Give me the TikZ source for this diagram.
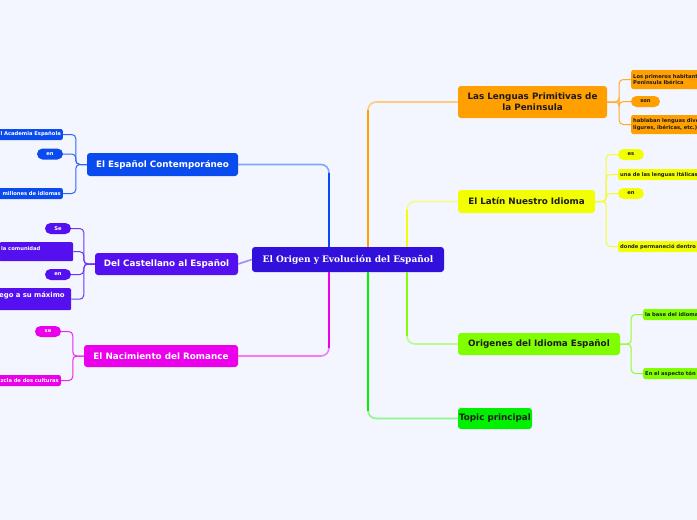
\documentclass[tikz,border=0pt]{standalone}
\usepackage{fontspec}
\newfontfamily\dvs{DejaVu Sans}
\newfontfamily\dvserif{DejaVu Serif}
\definecolor{bg}{HTML}{F3F6FE}
\definecolor{cCen}{HTML}{3210DC}
\definecolor{cBlue}{HTML}{0A4BF0}
\definecolor{cBlueL}{HTML}{7FA5FF}
\definecolor{cPur}{HTML}{5510F0}
\definecolor{cPurL}{HTML}{A888F8}
\definecolor{cMag}{HTML}{EB00EB}
\definecolor{cMagL}{HTML}{F47CF4}
\definecolor{cOra}{HTML}{FF9F00}
\definecolor{cOraL}{HTML}{FFCB80}
\definecolor{cYel}{HTML}{F2FF00}
\definecolor{cYelL}{HTML}{F4FA90}
\definecolor{cLim}{HTML}{80FF00}
\definecolor{cLimL}{HTML}{BBFA88}
\definecolor{cGre}{HTML}{00F000}
\definecolor{cGreL}{HTML}{88F888}
\definecolor{dk}{HTML}{1C1C1C}
\begin{document}
\begin{tikzpicture}[x=1pt,y=-1pt,
  topicbox/.style={rounded corners=3pt, inner sep=0pt, align=center,
    font=\dvs\bfseries\fontsize{8.8}{11}\selectfont},
  subbox/.style={rounded corners=2pt, inner xsep=2pt, inner ysep=0pt,
    minimum height=11pt, font=\dvs\bfseries\fontsize{5.2}{6.8}\selectfont},
  pillbox/.style={subbox, rounded corners=5.5pt, minimum width=26pt},
  mainconn/.style={line width=1.6pt, rounded corners=8pt},
  subconn/.style={line width=1pt, rounded corners=4pt}]
\fill[bg] (0,0) rectangle (697,520);
\useasboundingbox (0,0) rectangle (697,520);

% central
\node[fill=cCen, text=white, rounded corners=3pt, minimum width=192pt, minimum height=25pt,
  font=\dvserif\bfseries\fontsize{9}{10}\selectfont] (cen) at (348,259.5) {El Origen y Evolución del Español};

% main topics
\node[topicbox, fill=cBlue, text=white, minimum width=151pt, minimum height=23pt] (contemp) at (162.5,164.5) {El Español Contemporáneo};
\node[topicbox, fill=cPur, text=white, minimum width=143pt, minimum height=22pt] (cast) at (166.5,264) {Del Castellano al Español};
\node[topicbox, fill=cMag, text=white, minimum width=154pt, minimum height=22pt] (nac) at (161,356) {El Nacimiento del Romance};
\node[topicbox, fill=cOra, text=dk, minimum width=149pt, minimum height=32pt] (leng) at (532.5,102) {Las Lenguas Primitivas de\\la Peninsula};
\node[topicbox, fill=cYel, text=dk, minimum width=137pt, minimum height=23pt] (latin) at (526.5,201.5) {El Latín Nuestro Idioma};
\node[topicbox, fill=cLim, text=dk, minimum width=162pt, minimum height=22pt] (orig) at (539,344) {Origenes del Idioma Español};
\node[topicbox, fill=cGre, text=dk, minimum width=74pt, minimum height=21pt] (topic) at (495,418.5) {Topic principal};

% blue children
\node[subbox, fill=cBlue, text=white, anchor=east, text width=68pt, align=right] (b1) at (63,134.5) {l Academia Española};
\node[pillbox, fill=cBlue, text=white] (b2) at (50,154) {en};
\node[subbox, fill=cBlue, text=white, anchor=east, text width=68pt, align=right] (b3) at (63,193.5) {millones de idiomas};

% purple children
\node[pillbox, fill=cPur, text=white] (p1) at (58,228.5) {Se};
\node[subbox, fill=cPur, text=white, anchor=north west, text width=70pt, align=left, minimum height=19pt] (p2) at (-1,242) {la comunidad\\\mbox{}};
\node[pillbox, fill=cPur, text=white] (p3) at (58,274.5) {en};
\node[subbox, fill=cPur, text=white, anchor=north west, text width=70pt, align=left, minimum height=22pt,
  font=\dvs\bfseries\fontsize{6.9}{8}\selectfont] (p4) at (-3,288) {ego a su máximo\\\mbox{}};

% magenta children
\node[pillbox, fill=cMag, text=white] (m1) at (48,331.5) {se};
\node[subbox, fill=cMag, text=white, anchor=east, text width=66pt, align=right] (m2) at (61,380.5) {zcla de dos culturas};

% orange children
\node[subbox, fill=cOra, text=dk, anchor=west, text width=70pt, align=left, minimum height=19pt] (o1) at (631,79.5) {Los primeros habitant\\Peninsula Ibérica};
\node[pillbox, fill=cOra, text=dk, minimum width=29pt] (o2) at (645.5,101.5) {son};
\node[subbox, fill=cOra, text=dk, anchor=west, text width=70pt, align=left, minimum height=19pt] (o3) at (631,124.5) {hablaban lenguas dive\\ligures, ibéricas, etc.)};

% yellow children
\node[pillbox, fill=cYel, text=dk] (y1) at (631,154.5) {es};
\node[subbox, fill=cYel, text=dk, anchor=west, text width=80pt, align=left] (y2) at (618,174.5) {una de las lenguas itálicas};
\node[pillbox, fill=cYel, text=dk] (y3) at (631,193.5) {en};
\node[subbox, fill=cYel, text=dk, anchor=west, text width=80pt, align=left] (y4) at (618,246.5) {donde permaneció dentro};

% lime children
\node[subbox, fill=cLim, text=dk, anchor=west, text width=58pt, align=left] (l1) at (643,314.5) {la base del idioma};
\node[subbox, fill=cLim, text=dk, anchor=west, text width=58pt, align=left] (l2) at (643,373.5) {En el aspecto tón};

% main connectors
\draw[mainconn, cBlueL] ([xshift=-19pt]cen.north) |- (contemp.east);
\draw[mainconn, cBlue, shorten >=8pt] ([xshift=-19pt]cen.north) -- ([xshift=-19pt]cen.north |- contemp.east);
\draw[mainconn, cPurL] (cen.west) -- (cast.east);
\draw[mainconn, cMagL] ([xshift=-19pt]cen.south) |- (nac.east);
\draw[mainconn, cMag, shorten >=8pt] ([xshift=-19pt]cen.south) -- ([xshift=-19pt]cen.south |- nac.east);
\draw[mainconn, cOraL] ([xshift=20pt]cen.north) |- (leng.west);
\draw[mainconn, cOra, shorten >=8pt] ([xshift=20pt]cen.north) -- ([xshift=20pt]cen.north |- leng.west);
\draw[mainconn, cYelL] ([xshift=59pt]cen.north) |- (latin.west);
\draw[mainconn, cYel, shorten >=8pt] ([xshift=59pt]cen.north) -- ([xshift=59pt]cen.north |- latin.west);
\draw[mainconn, cLimL] ([xshift=59pt]cen.south) |- (orig.west);
\draw[mainconn, cLim, shorten >=8pt] ([xshift=59pt]cen.south) -- ([xshift=59pt]cen.south |- orig.west);
\draw[mainconn, cGreL] ([xshift=20pt]cen.south) |- (topic.west);
\draw[mainconn, cGre, shorten >=8pt] ([xshift=20pt]cen.south) -- ([xshift=20pt]cen.south |- topic.west);

% child connectors
\foreach \c in {b1,b2,b3}{\draw[subconn, cBlue!70!cBlueL] (contemp.west) -- ++(-11,0) |- (\c.east);}
\foreach \c in {p1,p2,p3,p4}{\draw[subconn, cPur!70!cPurL] (cast.west) -- ++(-11,0) |- (\c.east);}
\foreach \c in {m1,m2}{\draw[subconn, cMag!70!cMagL] (nac.west) -- ++(-11,0) |- (\c.east);}
\foreach \c in {o1,o2,o3}{\draw[subconn, cOra!70!cOraL] (leng.east) -- ++(12,0) |- (\c.west);}
\foreach \c in {y1,y2,y3,y4}{\draw[subconn, cYel!70!cYelL] (latin.east) -- ++(11,0) |- (\c.west);}
\foreach \c in {l1,l2}{\draw[subconn, cLim!70!cLimL] (orig.east) -- ++(11,0) |- (\c.west);}
\end{tikzpicture}
\end{document}
